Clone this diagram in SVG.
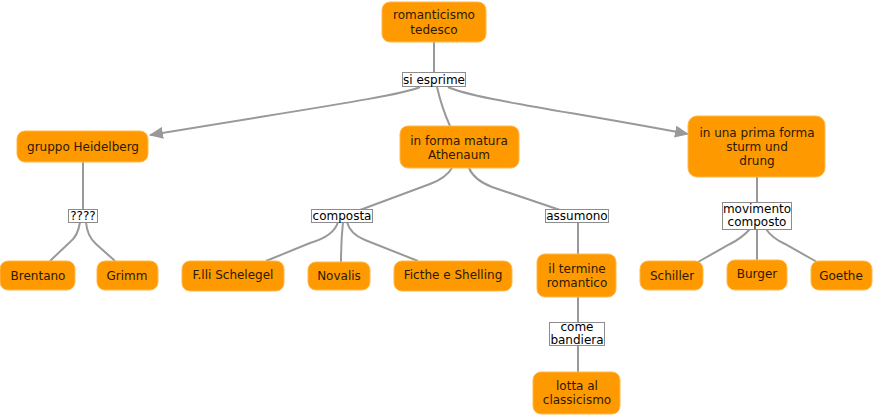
<svg xmlns="http://www.w3.org/2000/svg" width="875" height="416" viewBox="0 0 875 416">
<defs>
<style>
.n rect{fill:#ff9900;stroke:#ffb84d;stroke-width:1}
.n text{font-family:"DejaVu Sans",Verdana,sans-serif;font-size:12px;fill:#2a1a00;text-anchor:middle}
.l rect{fill:#fff;stroke:#8c8c8c;stroke-width:1}
.l text{font-family:"DejaVu Sans",Verdana,sans-serif;font-size:12px;fill:#000;text-anchor:middle}
.c path{fill:none;stroke:#999;stroke-width:2}
</style>
<marker id="ah" markerWidth="14" markerHeight="12" refX="13" refY="6" orient="auto" markerUnits="userSpaceOnUse">
<path d="M0,0 L14,6 L0,12 Z" fill="#999"/>
</marker>
</defs>
<rect width="875" height="416" fill="#fff"/>
<g id="connectors" class="c">
<path d="M434,42 L434,72"/>
<path d="M420,87 C400,96 300,110 150,135" marker-end="url(#ah)"/>
<path d="M437,87 C440,100 445,115 450,126"/>
<path d="M448,87 C470,98 560,110 688,134" marker-end="url(#ah)"/>
<path d="M83,162 L83,210"/>
<path d="M80,222 Q78,236 70,242 L50,261"/>
<path d="M86,222 Q87,236 96,244 L115,261"/>
<path d="M452,168 Q446,178 430,184 L360,210"/>
<path d="M469,168 Q474,180 492,187 L560,210"/>
<path d="M578,222 L578,254"/>
<path d="M338,222 Q334,236 310,243 L266,261"/>
<path d="M343,222 Q341,240 341,262"/>
<path d="M347,222 Q350,234 365,240 L418,261"/>
<path d="M578,297 L578,322"/>
<path d="M578,345 L578,372"/>
<path d="M757,177 L757,203"/>
<path d="M750,229 Q742,238 730,244 L698,262"/>
<path d="M757,229 L757,260"/>
<path d="M766,229 Q772,238 785,244 L817,262"/>
</g>
<g id="n-romanticismo" class="n"><rect x="382" y="2" width="104" height="40" rx="8"/><text x="434" y="19">romanticismo</text><text x="434" y="34">tedesco</text></g>
<g id="l-si-esprime" class="l"><rect x="402.5" y="72.5" width="63" height="14"/><text x="434" y="84">si esprime</text></g>
<g id="n-heidelberg" class="n"><rect x="17" y="131" width="131" height="31" rx="8"/><text x="83" y="151">gruppo Heidelberg</text></g>
<g id="n-athenaum" class="n"><rect x="400" y="126" width="119" height="42" rx="8"/><text x="459" y="145">in forma matura</text><text x="459" y="159">Athenaum</text></g>
<g id="n-sturm" class="n"><rect x="688" y="116" width="137" height="61" rx="9"/><text x="757" y="137">in una prima forma</text><text x="757" y="151">sturm und</text><text x="757" y="165">drung</text></g>
<g id="l-qqqq" class="l"><rect x="68.5" y="209.5" width="29" height="13"/><text x="83" y="220">????</text></g>
<g id="l-composta" class="l"><rect x="311.5" y="209.5" width="61" height="13"/><text x="342" y="220">composta</text></g>
<g id="l-assumono" class="l"><rect x="545.5" y="209.5" width="63" height="13"/><text x="577" y="220">assumono</text></g>
<g id="l-movimento" class="l"><rect x="722.5" y="202.5" width="69" height="27"/><text x="757" y="213">movimento</text><text x="757" y="226">composto</text></g>
<g id="n-brentano" class="n"><rect x="0" y="261" width="75" height="29" rx="8"/><text x="38" y="280">Brentano</text></g>
<g id="n-grimm" class="n"><rect x="97" y="261" width="61" height="29" rx="8"/><text x="127" y="280">Grimm</text></g>
<g id="n-schelegel" class="n"><rect x="182" y="261" width="102" height="30" rx="8"/><text x="233" y="279">F.lli Schelegel</text></g>
<g id="n-novalis" class="n"><rect x="308" y="262" width="62" height="28" rx="8"/><text x="339" y="280">Novalis</text></g>
<g id="n-ficthe" class="n"><rect x="394" y="261" width="118" height="30" rx="8"/><text x="453" y="279">Ficthe e Shelling</text></g>
<g id="n-termine" class="n"><rect x="537" y="254" width="79" height="43" rx="8"/><text x="577" y="273">il termine</text><text x="577" y="287">romantico</text></g>
<g id="l-bandiera" class="l"><rect x="549.5" y="322.5" width="55" height="23"/><text x="577" y="331">come</text><text x="577" y="344">bandiera</text></g>
<g id="n-lotta" class="n"><rect x="533" y="372" width="87" height="42" rx="8"/><text x="577" y="390">lotta al</text><text x="577" y="404">classicismo</text></g>
<g id="n-schiller" class="n"><rect x="640" y="261" width="63" height="29" rx="8"/><text x="672" y="280">Schiller</text></g>
<g id="n-burger" class="n"><rect x="727" y="260" width="60" height="30" rx="8"/><text x="757" y="278">Burger</text></g>
<g id="n-goethe" class="n"><rect x="811" y="261" width="61" height="29" rx="8"/><text x="841" y="280">Goethe</text></g>
</svg>
